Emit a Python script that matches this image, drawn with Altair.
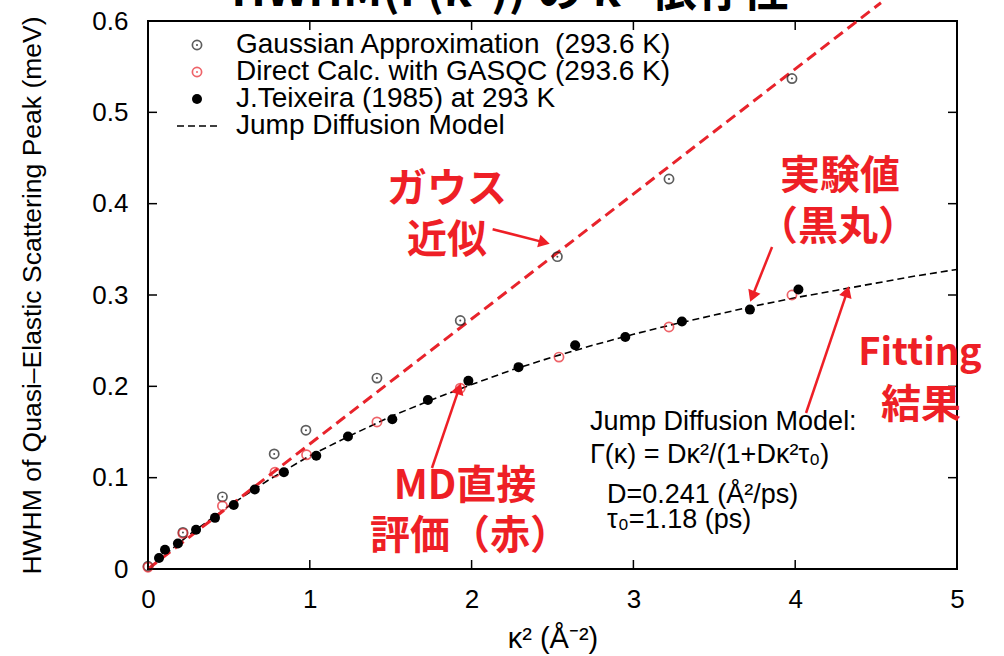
import math
import altair as alt
import pandas as pd

# ---------------- data ----------------
gauss_x = [0.0, 0.216, 0.46, 0.78, 0.976, 1.415, 1.93, 2.53, 3.22, 3.98]
gauss_y = [0.003, 0.040, 0.079, 0.126, 0.152, 0.209, 0.272, 0.342, 0.427, 0.537]

direct_x = [0.0, 0.216, 0.46, 0.785, 0.98, 1.415, 1.93, 2.54, 3.22, 3.98]
direct_y = [0.002, 0.039, 0.069, 0.106, 0.125, 0.161, 0.198, 0.232, 0.265, 0.300]

teix_x = [0.068, 0.105, 0.185, 0.297, 0.414, 0.53, 0.66, 0.84, 1.04, 1.236,
          1.51, 1.73, 1.98, 2.29, 2.64, 2.95, 3.30, 3.72, 4.02]
teix_y = [0.012, 0.021, 0.028, 0.043, 0.056, 0.070, 0.087, 0.106, 0.124, 0.145,
          0.164, 0.185, 0.206, 0.221, 0.245, 0.254, 0.271, 0.284, 0.306]

fit_x = [0.0, 0.25, 0.5, 0.75, 1.0, 1.25, 1.5, 1.75, 2.0, 2.25, 2.5, 2.75,
         3.0, 3.25, 3.5, 3.75, 4.0, 4.25, 4.5, 4.75, 5.0]
fit_y = [0.0, 0.037, 0.069, 0.098, 0.124, 0.146, 0.167, 0.185, 0.202, 0.218,
         0.232, 0.245, 0.257, 0.268, 0.278, 0.288, 0.297, 0.305, 0.313, 0.321, 0.328]

gline_x = [0.0, 4.53]
gline_y = [0.0, 0.62]

x_ticks = [0, 1, 2, 3, 4, 5]
y_ticks = [0, 0.1, 0.2, 0.3, 0.4, 0.5, 0.6]

legend_labels = ["Gaussian Approximation\u00a0\u00a0(293.6 K)",
                 "Direct Calc. with GASQC (293.6 K)",
                 "J.Teixeira (1985) at 293 K",
                 "Jump Diffusion Model"]

info_lines = ["Jump Diffusion Model:", "Γ(κ) = Dκ²/(1+Dκ²τ₀)",
              "D=0.241 (Å²/ps)", "τ₀=1.18 (ps)"]

title_text = "HWHM(Γ(κ²)) の κ² 依存性"

# annotation arrows (start -> tip) in data units
arrow_sx = [2.13, 3.857, 4.067, 1.755]
arrow_sy = [0.372, 0.3526, 0.1708, 0.1106]
arrow_tx = [2.485, 3.721, 4.333, 1.934]
arrow_ty = [0.356, 0.2923, 0.3099, 0.2037]

# ---------------- layout / style ----------------
W, H = 809, 548
XMAX, YMAX = 5.0, 0.6
XPX, YPX = W / XMAX, H / YMAX
RED = "#e8232b"
ANN = "#ee1f26"
FONT = "Liberation Sans"
CJK = "Noto Sans CJK JP"
FS = 26

xs = alt.Scale(domain=[0, XMAX], nice=False, zero=False)
ys = alt.Scale(domain=[0, YMAX], nice=False, zero=False)

x_axis = alt.Axis(values=x_ticks, ticks=False, domain=False, grid=False,
                  labelFont=FONT, labelFontSize=FS, labelColor="black",
                  labelPadding=17, labelFlush=False, labelOverlap=False,
                  format="d", title="κ² (Å⁻²)", titleFont=FONT,
                  titleFontSize=29, titleFontWeight="normal", titleColor="black",
                  titlePadding=12)
y_axis = alt.Axis(values=y_ticks, ticks=False, domain=False, grid=False,
                  labelFont=FONT, labelFontSize=FS, labelColor="black",
                  labelPadding=20, labelFlush=False, labelOverlap=False,
                  labelExpr="datum.value == 0 ? '0' : format(datum.value, '.1f')",
                  title="HWHM of Quasi–Elastic Scattering Peak (meV)",
                  titleFont=FONT, titleFontSize=26.5, titleFontWeight="normal",
                  titleColor="black", titlePadding=45)

fit_df = pd.DataFrame({"x": fit_x, "y": fit_y})
gauss_df = pd.DataFrame({"x": gauss_x, "y": gauss_y})
direct_df = pd.DataFrame({"x": direct_x, "y": direct_y})
teix_df = pd.DataFrame({"x": teix_x, "y": teix_y})
gline_df = pd.DataFrame({"x": gline_x, "y": gline_y})


def X():
    return alt.X("x:Q", scale=xs, axis=x_axis)


def Y():
    return alt.Y("y:Q", scale=ys, axis=y_axis)


fit = alt.Chart(fit_df).mark_line(color="black", strokeWidth=1.6,
                                  strokeDash=[7, 4]).encode(x=X(), y=Y())
gline = alt.Chart(gline_df).mark_line(color=RED, strokeWidth=3, strokeDash=[11, 6],
                                      clip=False).encode(x=X(), y=Y())
OPEN = 85
gauss_pts = alt.Chart(gauss_df).mark_point(shape="circle", size=OPEN, color="#1a1a1a",
                                           strokeWidth=1.7, filled=False).encode(x=X(), y=Y())
gauss_dot = alt.Chart(gauss_df).mark_point(shape="circle", size=4, color="black",
                                           filled=True).encode(x=X(), y=Y())
direct_pts = alt.Chart(direct_df).mark_point(shape="circle", size=OPEN, color=RED,
                                             strokeWidth=1.7, filled=False).encode(x=X(), y=Y())
teix_pts = alt.Chart(teix_df).mark_point(shape="circle", size=100, color="black",
                                         filled=True, opacity=1).encode(x=X(), y=Y())

# inward tick marks on all four sides (gnuplot style)
TL = 9
xt_df = pd.DataFrame({"x": x_ticks})
yt_df = pd.DataFrame({"y": y_ticks})
tick_style = dict(color="black", strokeWidth=1.5)
tb = alt.Chart(xt_df).mark_rule(**tick_style).encode(x=X(), y=alt.value(H), y2=alt.value(H - TL))
tt = alt.Chart(xt_df).mark_rule(**tick_style).encode(x=X(), y=alt.value(0), y2=alt.value(TL))
tl = alt.Chart(yt_df).mark_rule(**tick_style).encode(y=Y(), x=alt.value(0), x2=alt.value(TL))
tr = alt.Chart(yt_df).mark_rule(**tick_style).encode(y=Y(), x=alt.value(W), x2=alt.value(W - TL))

# legend (inside, top-left)
LX_SYM, LX_TXT, LY0, LDY = 49, 88, 24, 27
leg_rows = pd.DataFrame({"label": legend_labels,
                         "py": [LY0 + LDY * i for i in range(len(legend_labels))]})
leg_text = alt.Chart(leg_rows).mark_text(align="left", baseline="middle", font=FONT,
                                         fontSize=28, color="black").encode(
    x=alt.value(LX_TXT), y=alt.Y("py:Q", scale=None), text="label:N")
one = pd.DataFrame({"a": [0]})
leg_s0 = alt.Chart(one).mark_point(shape="circle", size=OPEN, color="#1a1a1a", strokeWidth=1.7,
                                   filled=False).encode(x=alt.value(LX_SYM), y=alt.value(LY0))
leg_s0d = alt.Chart(one).mark_point(shape="circle", size=4, color="black",
                                    filled=True).encode(x=alt.value(LX_SYM), y=alt.value(LY0))
leg_s1 = alt.Chart(one).mark_point(shape="circle", size=OPEN, color=RED, strokeWidth=1.7,
                                   filled=False).encode(x=alt.value(LX_SYM), y=alt.value(LY0 + LDY))
leg_s1d = alt.Chart(one).mark_point(shape="circle", size=4, color=RED,
                                    filled=True).encode(x=alt.value(LX_SYM), y=alt.value(LY0 + LDY))
leg_s2 = alt.Chart(one).mark_point(shape="circle", size=100, color="black", filled=True,
                                   opacity=1).encode(x=alt.value(LX_SYM), y=alt.value(LY0 + 2 * LDY))
leg_s3 = alt.Chart(one).mark_rule(color="black", strokeWidth=1.6, strokeDash=[7, 4]).encode(
    x=alt.value(29), x2=alt.value(70), y=alt.value(LY0 + 3 * LDY))

# model info text
info_df = pd.DataFrame({"t": info_lines, "px": [442, 442, 459, 459],
                        "py": [401, 434, 474, 499]})
info = alt.Chart(info_df).mark_text(align="left", baseline="middle", font=FONT,
                                    fontSize=27, color="black").encode(
    x=alt.X("px:Q", scale=None), y=alt.Y("py:Q", scale=None), text="t:N")


# red annotations
def ann(txt, px, py, size=40, font=CJK):
    return alt.Chart(pd.DataFrame({"t": [txt]})).mark_text(
        align="center", baseline="middle", font=font, fontSize=size,
        fontWeight="bold", color=ANN).encode(x=alt.value(px), y=alt.value(py), text="t:N")


anns = [ann("ガウス", 299, 169), ann("近似", 299, 220),
        ann("実験値", 692, 156), ann("（黒丸）", 690, 207),
        ann("Fitting", 772, 333, size=38), ann("結果", 773, 385),
        ann("MD直接", 317, 466), ann("評価（赤）", 322, 516)]

# arrows
seg_rows, head_rows = [], []
for i in range(len(arrow_sx)):
    sx, sy = arrow_sx[i] * XPX, (YMAX - arrow_sy[i]) * YPX
    tx, ty = arrow_tx[i] * XPX, (YMAX - arrow_ty[i]) * YPX
    dx, dy = tx - sx, ty - sy
    L = math.hypot(dx, dy)
    ux, uy = dx / L, dy / L
    hx, hy = tx - 6 * ux, ty - 6 * uy
    ang = math.degrees(math.atan2(dx, -dy)) % 360
    seg_rows.append({"id": i, "o": 0, "x": arrow_sx[i], "y": arrow_sy[i]})
    seg_rows.append({"id": i, "o": 1, "x": hx / XPX, "y": YMAX - hy / YPX})
    head_rows.append({"x": hx / XPX, "y": YMAX - hy / YPX, "ang": ang})
seg_df = pd.DataFrame(seg_rows)
head_df = pd.DataFrame(head_rows)
arrow_lines = alt.Chart(seg_df).mark_line(color=ANN, strokeWidth=2.5, clip=False).encode(
    x=X(), y=Y(), detail="id:N", order="o:Q")
arrow_heads = alt.Chart(head_df).mark_point(shape="triangle-up", size=170, color=ANN,
                                            filled=True, opacity=1).encode(
    x=X(), y=Y(), angle=alt.Angle("ang:Q", scale=None))

# cut-off page title at the very top
title = alt.Chart(pd.DataFrame({"t": [title_text]})).mark_text(
    align="center", baseline="alphabetic", font=CJK, fontSize=46, fontWeight="bold",
    color="black").encode(x=alt.value(362), y=alt.value(-15), text="t:N")

chart = alt.layer(
    fit, gline, gauss_pts, gauss_dot, direct_pts, teix_pts,
    tb, tt, tl, tr,
    leg_text, leg_s0, leg_s0d, leg_s1, leg_s1d, leg_s2, leg_s3,
    info, *anns, arrow_lines, arrow_heads, title
).properties(
    width=W, height=H,
    padding={"left": 148, "top": 21, "right": 47, "bottom": 87},
    autosize=alt.AutoSizeParams(type="none"),
    background="white",
).configure_view(stroke="black", strokeWidth=2)

chart.save("out.html", embed_options={"renderer": "svg", "actions": False})
